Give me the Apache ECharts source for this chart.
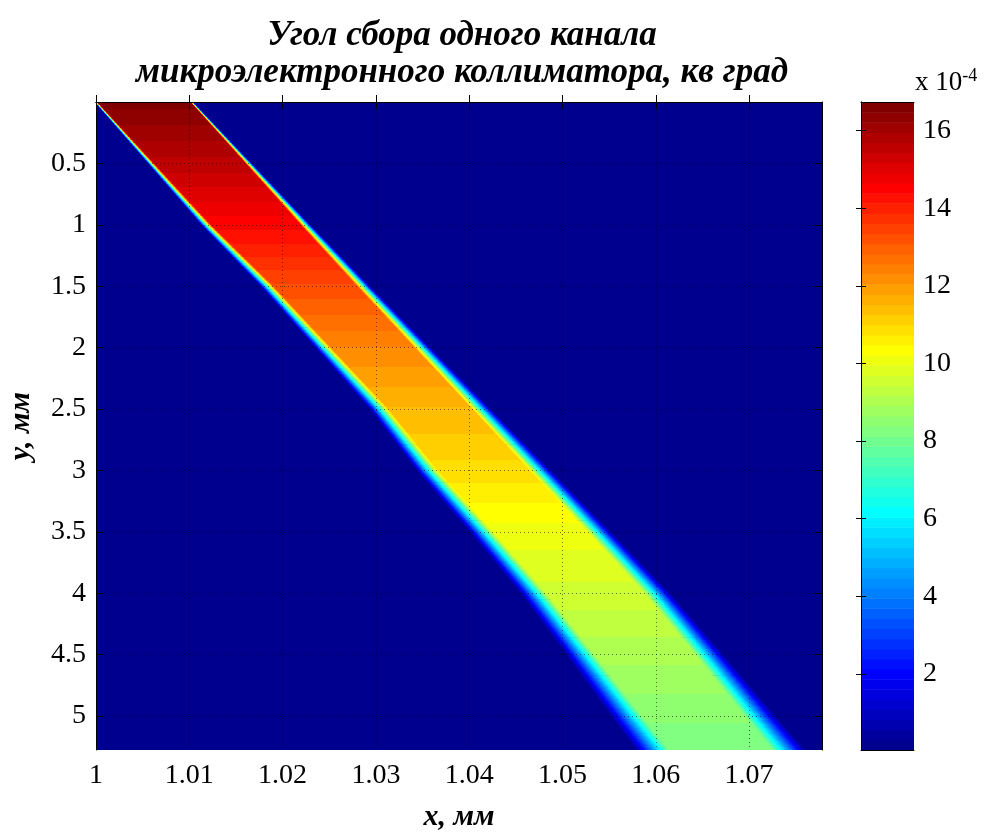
<!DOCTYPE html>
<html>
<head>
<meta charset="utf-8">
<script src="https://cdn.jsdelivr.net/npm/echarts@6/dist/echarts.min.js"></script>
<style>
  html, body { margin: 0; padding: 0; background: #fff; }
  #chart { width: 988px; height: 834px; }
</style>
</head>
<body>
<div id="chart"></div>
<script>
var chart = echarts.init(document.getElementById("chart"));

// axis ticks
var xTicks = [1, 1.01, 1.02, 1.03, 1.04, 1.05, 1.06, 1.07];
var yTicks = [0.5, 1, 1.5, 2, 2.5, 3, 3.5, 4, 4.5, 5];
var cTicks = [2, 4, 6, 8, 10, 12, 14, 16];

// colour range of the colorbar (x 10^-4)
var cMin = 0.04;
var cMax = 16.74;

// band, one entry per y knot (mm)
var yKnots = [0, 0.5, 1, 1.5, 2, 2.5, 3, 3.5, 4, 4.5, 5, 5.276];
var bandLeft = [1.0, 1.0059, 1.01179, 1.01833, 1.02433, 1.03033, 1.03548, 1.04127, 1.04685, 1.05188, 1.05681, 1.0596];
var bandRight = [1.01029, 1.0164, 1.02251, 1.02873, 1.03505, 1.04138, 1.0477, 1.05403, 1.06025, 1.06582, 1.07128, 1.07439];
var edgeWidth = [0.00032, 0.00072, 0.00113, 0.00147, 0.00178, 0.00209, 0.00235, 0.00259, 0.00285, 0.00316, 0.00347, 0.00364];
var angle = [16.6, 15.6, 14.5, 13.3, 12.3, 11.5, 10.9, 10.1, 9.6, 9.0, 8.45, 8.15];

// matlab jet(64)
function jetMap(n) {
  var m = Math.ceil(n / 4);
  var u = [];
  for (var i = 1; i <= m; i++) u.push(i / m);
  for (var i = 1; i < m; i++) u.push(1);
  for (var i = m; i >= 1; i--) u.push(i / m);
  var off = Math.ceil(m / 2) - (n % 4 === 1 ? 1 : 0);
  var J = [];
  for (var k = 0; k < n; k++) J.push([0, 0, 0]);
  for (var i = 0; i < u.length; i++) {
    var g = off + i + 1;
    var r = g + m, b = g - m;
    if (r >= 1 && r <= n) J[r - 1][0] = u[i];
    if (g >= 1 && g <= n) J[g - 1][1] = u[i];
    if (b >= 1 && b <= n) J[b - 1][2] = u[i];
  }
  return J.map(function (c) {
    return "rgb(" + c.map(function (x) { return Math.round(x * 255); }).join(",") + ")";
  });
}
var jet = jetMap(64);
var levelStep = (cMax - cMin) / 64;

function levelOf(v) {
  return Math.max(0, Math.min(63, Math.floor((v - cMin) / levelStep)));
}

// gradient stops with hard steps at each colormap level
function stepStops(v0, v1) {
  var k0 = levelOf(v0), k1 = levelOf(v1);
  if (k0 === k1) return [{ offset: 0, color: jet[k0] }, { offset: 1, color: jet[k0] }];
  var dir = k1 > k0 ? 1 : -1;
  var stops = [{ offset: 0, color: jet[k0] }];
  for (var k = k0; k !== k1; k += dir) {
    var b = cMin + (dir > 0 ? k + 1 : k) * levelStep;
    var t = (b - v0) / (v1 - v0);
    stops.push({ offset: t, color: jet[k] });
    stops.push({ offset: t, color: jet[k + dir] });
  }
  stops.push({ offset: 1, color: jet[k1] });
  return stops;
}

function ramp(oa, ob, ib, ia, vm, inward) {
  var O = [(oa[0] + ob[0]) / 2, (oa[1] + ob[1]) / 2];
  var I = [(ia[0] + ib[0]) / 2, (ia[1] + ib[1]) / 2];
  var dx = ob[0] - oa[0], dy = ob[1] - oa[1];
  var len = Math.sqrt(dx * dx + dy * dy) || 1;
  var n = [dy / len, -dx / len];
  var p = (I[0] - O[0]) * n[0] + (I[1] - O[1]) * n[1];
  var E = [O[0] + n[0] * p, O[1] + n[1] * p];
  return {
    type: "polygon",
    shape: { points: [oa, ob, [ib[0] + inward, ib[1]], [ia[0] + inward, ia[1]]] },
    style: {
      fill: { type: "linear", x: O[0], y: O[1], x2: E[0], y2: E[1], global: true, colorStops: stepStops(0, vm) }
    }
  };
}

function renderBand(params, api) {
  var y0 = api.value(0), y1 = api.value(1);
  var L0 = api.value(2), L1 = api.value(3);
  var R0 = api.value(4), R1 = api.value(5);
  var w0 = api.value(6), w1 = api.value(7);
  var v0 = api.value(8), v1 = api.value(9);
  var children = [];
  var a = api.coord([L0 + w0 / 2, y0]);
  var b = api.coord([R0 - w0 / 2, y0]);
  var c = api.coord([R1 - w1 / 2, y1]);
  var d = api.coord([L1 + w1 / 2, y1]);
  children.push({
    type: "polygon",
    shape: { points: [a, b, [c[0], c[1] + 0.7], [d[0], d[1] + 0.7]] },
    style: { fill: { type: "linear", x: 0, y: a[1], x2: 0, y2: d[1], global: true, colorStops: stepStops(v0, v1) } }
  });
  var slices = Math.max(1, Math.ceil((d[1] - a[1]) / 3));
  for (var s = 0; s < slices; s++) {
    var t0 = s / slices, t1 = (s + 1) / slices, tm = (t0 + t1) / 2;
    var ya = y0 + (y1 - y0) * t0, yb = y0 + (y1 - y0) * t1;
    var La = L0 + (L1 - L0) * t0, Lb = L0 + (L1 - L0) * t1;
    var Ra = R0 + (R1 - R0) * t0, Rb = R0 + (R1 - R0) * t1;
    var wa = w0 + (w1 - w0) * t0, wb = w0 + (w1 - w0) * t1;
    var vm = v0 + (v1 - v0) * tm;
    var lo1 = api.coord([La - wa / 2, ya]), lo2 = api.coord([Lb - wb / 2, yb]);
    var li1 = api.coord([La + wa / 2, ya]), li2 = api.coord([Lb + wb / 2, yb]);
    lo2[1] += 0.7; li2[1] += 0.7;
    children.push(ramp(lo1, lo2, li2, li1, vm, 1.5));
    var ro1 = api.coord([Ra + wa / 2, ya]), ro2 = api.coord([Rb + wb / 2, yb]);
    var ri1 = api.coord([Ra - wa / 2, ya]), ri2 = api.coord([Rb - wb / 2, yb]);
    ro2[1] += 0.7; ri2[1] += 0.7;
    children.push(ramp(ro1, ro2, ri2, ri1, vm, -1.5));
  }
  return { type: "group", children: children };
}

function renderColorbar(params, api) {
  var k = api.value(0);
  var lo = cMin + k * levelStep, hi = lo + levelStep;
  var p0 = api.coord([0, hi]);
  var p1 = api.coord([1, lo]);
  return {
    type: "rect",
    shape: { x: p0[0], y: p0[1], width: p1[0] - p0[0], height: p1[1] - p0[1] + 0.6 },
    style: { fill: jet[k] }
  };
}

var bandData = [];
for (var i = 0; i < yKnots.length - 1; i++) {
  bandData.push([yKnots[i], yKnots[i + 1], bandLeft[i], bandLeft[i + 1], bandRight[i], bandRight[i + 1],
    edgeWidth[i], edgeWidth[i + 1], angle[i], angle[i + 1]]);
}
var barData = [];
for (var k = 0; k < 64; k++) barData.push([k, 0]);

var serif = "Liberation Serif";
var tickFont = { fontSize: 28, fontFamily: serif, color: "#000" };
var nameFont = { fontSize: 30, fontFamily: serif, fontStyle: "italic", fontWeight: "bold", color: "#000" };
var blackLine = { show: true, lineStyle: { color: "#000", width: 1 } };
var gridLine = { show: true, lineStyle: { color: "#000", type: [1, 3], width: 1, opacity: 0.55 } };

chart.setOption({
  animation: false,
  title: [
    {
      text: "Угол сбора одного канала\nмикроэлектронного коллиматора, кв град",
      left: 457,
      top: 12,
      textAlign: "center",
      textStyle: { fontSize: 35, lineHeight: 37, fontFamily: serif, fontStyle: "italic", fontWeight: "bold", color: "#000" }
    },
    {
      text: "{a|x 10}{b|-4}",
      left: 910,
      top: 62,
      textStyle: {
        rich: {
          a: { fontSize: 27, fontFamily: serif, fontWeight: "normal", color: "#000" },
          b: { fontSize: 18, fontFamily: serif, fontWeight: "normal", color: "#000", padding: [0, 0, 14, 0] }
        }
      }
    }
  ],
  grid: [
    { left: 96, top: 102, width: 726, height: 648, show: true, backgroundColor: "rgb(0,0,143)", borderWidth: 0, outerBoundsMode: "none" },
    { left: 861, top: 102, width: 53, height: 648, show: false, outerBoundsMode: "none" }
  ],
  xAxis: [
    {
      type: "value", gridIndex: 0, min: 1, max: 1.07782, position: "bottom", z: 5,
      axisLine: blackLine,
      axisTick: { inside: true, length: 7, lineStyle: { color: "#000" }, customValues: xTicks },
      axisLabel: Object.assign({ customValues: xTicks, margin: 12, formatter: function (v) { return String(v); } }, tickFont),
      splitLine: gridLine,
      name: "x, мм", nameLocation: "middle", nameGap: 52, nameTextStyle: nameFont
    },
    {
      type: "value", gridIndex: 0, min: 1, max: 1.07782, position: "top", z: 5,
      axisLine: blackLine,
      axisTick: { inside: true, length: 7, lineStyle: { color: "#000" }, customValues: xTicks },
      axisLabel: { show: false },
      splitLine: { show: false }
    },
    { type: "value", gridIndex: 1, min: 0, max: 1, position: "bottom", z: 5, axisLine: blackLine, axisTick: { show: false }, axisLabel: { show: false }, splitLine: { show: false } },
    { type: "value", gridIndex: 1, min: 0, max: 1, position: "top", z: 5, axisLine: blackLine, axisTick: { show: false }, axisLabel: { show: false }, splitLine: { show: false } }
  ],
  yAxis: [
    {
      type: "value", gridIndex: 0, min: 0, max: 5.276, inverse: true, position: "left", z: 5,
      axisLine: blackLine,
      axisTick: { inside: true, length: 7, lineStyle: { color: "#000" }, customValues: yTicks },
      axisLabel: Object.assign({ customValues: yTicks, margin: 10, formatter: function (v) { return String(v); } }, tickFont),
      splitLine: gridLine,
      name: "y, мм", nameLocation: "middle", nameGap: 60, nameRotate: 90, nameTextStyle: nameFont
    },
    {
      type: "value", gridIndex: 0, min: 0, max: 5.276, inverse: true, position: "right", z: 5,
      axisLine: blackLine,
      axisTick: { inside: true, length: 7, lineStyle: { color: "#000" }, customValues: yTicks },
      axisLabel: { show: false },
      splitLine: { show: false }
    },
    {
      type: "value", gridIndex: 1, min: cMin, max: cMax, position: "right", z: 5,
      axisLine: blackLine,
      axisTick: { inside: true, length: 5, lineStyle: { color: "#000" }, customValues: cTicks },
      axisLabel: Object.assign({ customValues: cTicks, margin: 9 }, tickFont),
      splitLine: { show: false }
    },
    {
      type: "value", gridIndex: 1, min: cMin, max: cMax, position: "left", z: 5,
      axisLine: blackLine,
      axisTick: { inside: true, length: 5, lineStyle: { color: "#000" }, customValues: cTicks },
      axisLabel: { show: false },
      splitLine: { show: false }
    }
  ],
  series: [
    {
      type: "custom",
      name: "angle",
      xAxisIndex: 0,
      yAxisIndex: 0,
      clip: true,
      encode: { x: 2, y: 0 },
      renderItem: renderBand,
      data: bandData
    },
    {
      type: "custom",
      name: "colorbar",
      xAxisIndex: 2,
      yAxisIndex: 2,
      clip: true,
      encode: { x: 1, y: 0 },
      renderItem: renderColorbar,
      data: barData
    }
  ]
});
</script>
</body>
</html>
